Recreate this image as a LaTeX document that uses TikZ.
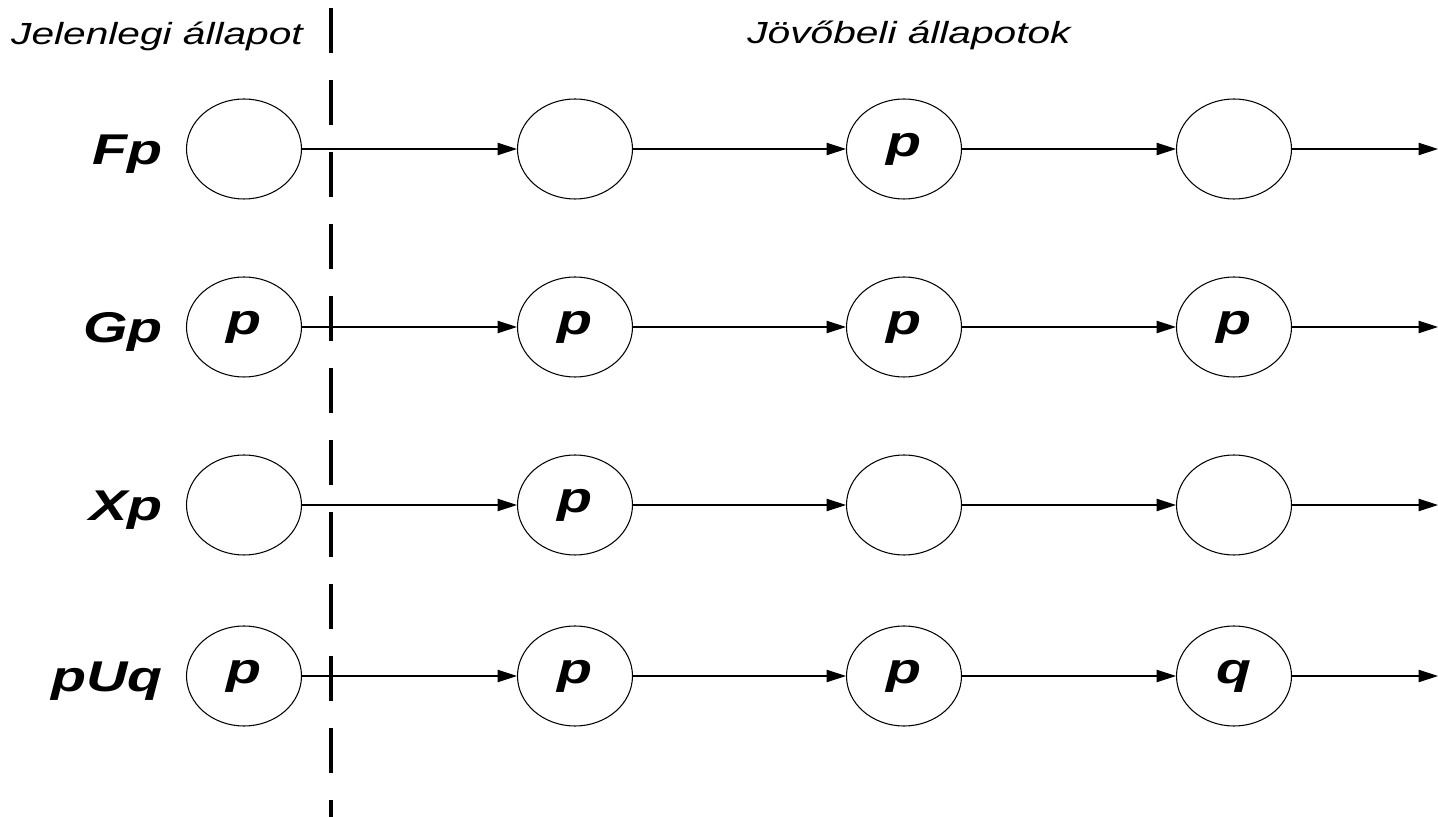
\documentclass[tikz,border=0pt]{standalone}
\usepackage{fontspec}
\setmainfont{Liberation Sans}
\newfontfamily\widesans[FakeStretch=1.33]{Liberation Sans}
\usetikzlibrary{shapes.geometric,arrows.meta}
\begin{document}
\begin{tikzpicture}[x=0.02cm,y=-0.02cm,
  state/.style={ellipse,draw,line width=0.6pt,minimum width=2.3cm,minimum height=2cm,inner sep=0pt,
    text height=16pt,text depth=7pt,
    font=\widesans\fontsize{24.5}{28}\selectfont\bfseries\itshape},
  rowlabel/.style={anchor=base east,inner sep=0pt,font=\widesans\fontsize{24.5}{28}\selectfont\bfseries\itshape},
  heading/.style={anchor=base,inner sep=0pt,font=\widesans\fontsize{17.4}{20}\selectfont\itshape},
  link/.style={line width=0.6pt,-{Triangle[length=11pt,width=7pt]}}]
\useasboundingbox (0,0) rectangle (1438,817);

% headings and the divider between present and future
\node[heading] (now) at (157,45) {Jelenlegi állapot};
\node[heading] (future) at (909,44) {Jövőbeli állapotok};
\coordinate (divtop) at (331,8);
\coordinate (divbot) at (331,817);
\draw[line width=1.9pt,dash pattern=on 0.9cm off 0.54cm] (divtop) -- (divbot);

% rows: label, four states, outgoing arrow
\foreach \r/\y/\lab/\a/\b/\c/\d in {1/149/Fp/{}/{}/p/{},2/327/Gp/p/p/p/p,3/505/Xp/{}/p/{}/{},4/676/pUq/p/p/p/q}{
  \node[rowlabel] (L\r) at (163,\y+15.5) {\lab};
  \node[state] (S\r a) at (244,\y) {\a};
  \node[state] (S\r b) at (575,\y) {\b};
  \node[state] (S\r c) at (904,\y) {\c};
  \node[state] (S\r d) at (1234,\y) {\d};
  \coordinate (E\r) at (1438,\y);
  \draw[link] (S\r a) -- (S\r b);
  \draw[link] (S\r b) -- (S\r c);
  \draw[link] (S\r c) -- (S\r d);
  \draw[link] (S\r d) -- (E\r);
}
\end{tikzpicture}
\end{document}
